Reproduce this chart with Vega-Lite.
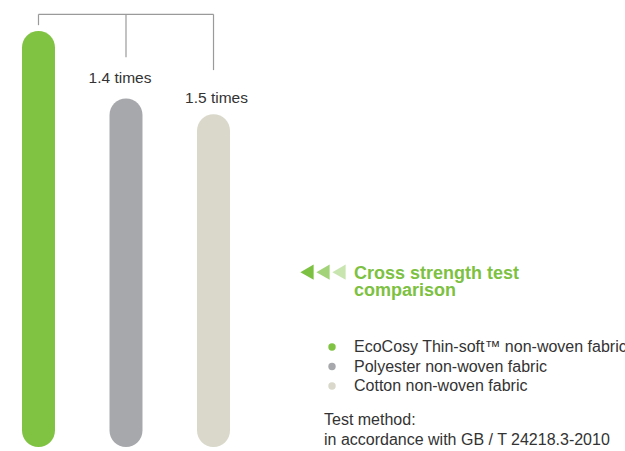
{
  "$schema": "https://vega.github.io/schema/vega-lite/v6.json",
  "width": 625,
  "height": 451,
  "autosize": "none",
  "padding": 0,
  "background": "white",
  "config": {"view": {"stroke": null}, "font": "Liberation Sans"},
  "title": {
    "text": ["Cross strength test", "comparison"],
    "anchor": "start",
    "frame": "group",
    "orient": "top",
    "offset": 0,
    "dx": 354,
    "dy": 300,
    "fontSize": 18,
    "fontWeight": "bold",
    "color": "#7dc142",
    "lineHeight": 17,
    "font": "Liberation Sans"
  },
  "data": {
    "values": [
      {"fabric": "EcoCosy Thin-soft™ non-woven fabric", "strength": 100, "base": 0, "ratio": "", "ratioAt": 0, "level": 104, "bracketEnd": 101.4, "bracketTo": "Cotton non-woven fabric"},
      {"fabric": "Polyester non-woven fabric", "strength": 83.8, "base": 0, "ratio": "1.4 times", "ratioAt": 87.6, "level": 104, "bracketEnd": 93.7, "bracketTo": "Polyester non-woven fabric"},
      {"fabric": "Cotton non-woven fabric", "strength": 80.0, "base": 0, "ratio": "1.5 times", "ratioAt": 82.8, "level": 104, "bracketEnd": 90.6, "bracketTo": "Cotton non-woven fabric"}
    ]
  },
  "layer": [
    {
      "mark": {"type": "bar", "cornerRadius": 16.5},
      "encoding": {
        "x": {
          "field": "fabric",
          "type": "nominal",
          "axis": null,
          "scale": {
            "domain": ["EcoCosy Thin-soft™ non-woven fabric", "Polyester non-woven fabric", "Cotton non-woven fabric"],
            "range": [0, 252],
            "paddingInner": 0.623,
            "paddingOuter": 0.2514
          }
        },
        "y": {"field": "strength", "type": "quantitative", "axis": null, "scale": {"domain": [-0.96, 107.45], "nice": false, "zero": false}},
        "y2": {"field": "base"},
        "color": {
          "field": "fabric",
          "type": "nominal",
          "scale": {
            "domain": ["EcoCosy Thin-soft™ non-woven fabric", "Polyester non-woven fabric", "Cotton non-woven fabric"],
            "range": ["#80c342", "#a7a8ab", "#d9d8ca"]
          },
          "legend": {
            "orient": "none",
            "legendX": 324,
            "legendY": 339,
            "padding": 0,
            "title": ["Test method:", "\u00a0in accordance with GB / T 24218.3-2010"],
            "titleOrient": "bottom",
            "titleFont": "Liberation Sans",
            "titleFontSize": 16,
            "titleFontWeight": "normal",
            "titleColor": "#333333",
            "titleLineHeight": 20,
            "titlePadding": 18,
            "titleLimit": 400,
            "labelFont": "Liberation Sans",
            "labelFontSize": 16,
            "labelColor": "#333333",
            "labelOffset": 14,
            "labelLimit": 400,
            "symbolType": "circle",
            "symbolSize": 55,
            "symbolStrokeWidth": 0,
            "rowPadding": 3.5
          }
        }
      }
    },
    {
      "mark": {"type": "rule", "color": "#9a9a9a", "strokeWidth": 1.2},
      "encoding": {
        "x": {"field": "fabric", "type": "nominal"},
        "y": {"field": "level", "type": "quantitative"},
        "y2": {"field": "bracketEnd"}
      }
    },
    {
      "transform": [{"filter": "datum.ratio == ''"}],
      "mark": {"type": "rule", "color": "#9a9a9a", "strokeWidth": 1.2},
      "encoding": {
        "x": {"field": "fabric", "type": "nominal"},
        "x2": {"field": "bracketTo"},
        "y": {"field": "level", "type": "quantitative"}
      }
    },
    {
      "transform": [{"filter": "datum.ratio == '1.4 times'"}],
      "mark": {"type": "text", "fontSize": 15.5, "color": "#333333", "align": "center", "baseline": "alphabetic", "dx": -6, "font": "Liberation Sans"},
      "encoding": {
        "x": {"field": "fabric", "type": "nominal"},
        "y": {"field": "ratioAt", "type": "quantitative"},
        "text": {"field": "ratio"}
      }
    },
    {
      "transform": [{"filter": "datum.ratio == '1.5 times'"}],
      "mark": {"type": "text", "fontSize": 15.5, "color": "#333333", "align": "center", "baseline": "alphabetic", "dx": 3, "font": "Liberation Sans"},
      "encoding": {
        "x": {"field": "fabric", "type": "nominal"},
        "y": {"field": "ratioAt", "type": "quantitative"},
        "text": {"field": "ratio"}
      }
    },
    {
      "data": {"values": []},
      "mark": {"type": "point", "filled": true, "shape": "triangle-left", "color": "#7dc142"},
      "encoding": {
        "opacity": {
          "field": "shade",
          "type": "ordinal",
          "scale": {"domain": ["a", "b", "c"], "range": [1, 0.42, 0.25]},
          "legend": {
            "orient": "none",
            "legendX": 299,
            "legendY": 264,
            "padding": 0,
            "direction": "horizontal",
            "title": null,
            "symbolType": "triangle-left",
            "symbolSize": 235,
            "symbolFillColor": "#7dc142",
            "symbolStrokeWidth": 0,
            "labelExpr": "''",
            "labelOffset": 0,
            "labelFontSize": 1,
            "columnPadding": 0
          }
        }
      }
    }
  ]
}
